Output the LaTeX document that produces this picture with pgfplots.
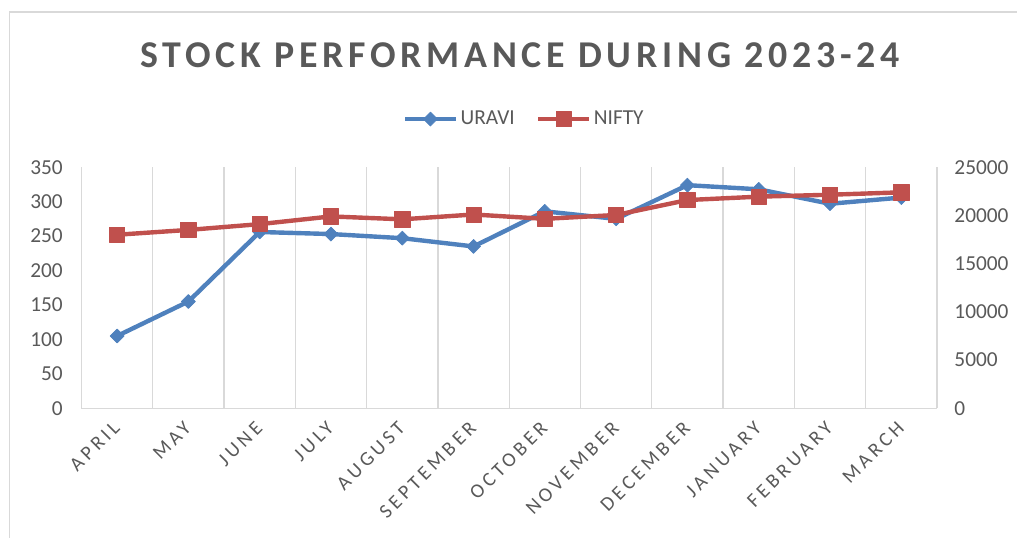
\documentclass[border=0pt]{standalone}
\usepackage{pgfplots}
\usepackage{pgfplotstable}
\pgfplotsset{compat=1.18}
\usepackage{fontspec}
\setmainfont{Carlito}
\newfontfamily\titlefont[LetterSpace=12.5]{Carlito}
\newfontfamily\xfont[LetterSpace=19]{Carlito}
\definecolor{uravi}{HTML}{4F81BD}
\definecolor{nifty}{HTML}{C0504D}
\definecolor{txt}{HTML}{595959}
\definecolor{gridc}{HTML}{D9D9D9}

\pgfplotstableread{
x uravi nifty
0 105 18000
1 155 18500
2 256 19100
3 253 19900
4 247 19600
5 235 20100
6 286 19650
7 275 20050
8 324 21600
9 318 21950
10 297 22150
11 306 22400
}\datatable

\pgfplotsset{
  common/.style={
    at={(61.1pt,97.3pt)}, anchor=south west,
    scale only axis, width=641.6pt, height=180.75pt,
    xmin=-0.5, xmax=11.5, ymin=0,
    major tick length=0pt, minor tick length=0pt,
    tick style={draw=none},
    scaled y ticks=false,
    /pgf/number format/assume math mode=true,
    /pgf/number format/1000 sep={},
    tick label style={font=\fontsize{16pt}{18pt}\selectfont, text=txt},
    y axis line style={draw=none},
  },
  uravistyle/.style={color=uravi, line width=3.3pt, line join=round, mark=square*, mark size=3.7pt,
    mark options={rotate=45, solid, line width=0.5pt, fill=uravi, draw=uravi}},
  niftystyle/.style={color=nifty, line width=3.3pt, line join=round, mark=square*, mark size=5.7pt,
    mark options={solid, line width=0.5pt, fill=nifty, draw=nifty}},
}

\begin{document}
\begin{tikzpicture}
\useasboundingbox (0,0) rectangle (762.75pt,403.5pt);
\draw[gridc, line width=1.1pt] (7.1pt,0) -- (7.1pt,394.5pt) -- (763pt,394.5pt);
\node[anchor=base, text=txt, inner sep=0pt, font=\titlefont\bfseries\fontsize{28.4pt}{32pt}\selectfont] at (390pt,352.7pt) {STOCK PERFORMANCE DURING 2023-24};

\begin{axis}[common,
  ymax=350, ytick={0,50,...,350},
  axis x line*=bottom, x axis line style={-, draw=gridc, line width=1pt},
  axis y line*=left,
  xtick={0,...,11},
  xticklabels={APRIL,MAY,JUNE,JULY,AUGUST,SEPTEMBER,OCTOBER,NOVEMBER,DECEMBER,JANUARY,FEBRUARY,MARCH},
  xticklabel style={xshift=-4pt, yshift=-4pt, rotate=45, anchor=north east, font=\xfont\fontsize{15pt}{17pt}\selectfont},
  minor xtick={-0.5,0.5,...,11.5},
  xminorgrids=true, minor grid style={draw=gridc, line width=1pt},
  yticklabel style={anchor=east, xshift=-10.5pt},
]
\addplot[uravistyle] table[x=x, y=uravi] {\datatable};
\end{axis}

\begin{axis}[common,
  ymax=25000, ytick={0,5000,...,25000},
  axis y line*=right, axis x line=none,
  yticklabel style={anchor=west, xshift=9.6pt},
  legend columns=2,
  legend style={at={(0.518,1.2)}, anchor=center, draw=none, fill=none,
    font=\fontsize{16pt}{18pt}\selectfont, text=txt,
    /tikz/every even column/.append style={column sep=14pt}},
  legend image code/.code={\draw[mark repeat=2, mark phase=2, #1] plot coordinates {(0pt,0pt) (19pt,0pt) (38pt,0pt)};},
]
\addlegendimage{uravistyle}
\addlegendentry{URAVI}
\addplot[niftystyle] table[x=x, y=nifty] {\datatable};
\addlegendentry{NIFTY}
\end{axis}
\end{tikzpicture}
\end{document}
